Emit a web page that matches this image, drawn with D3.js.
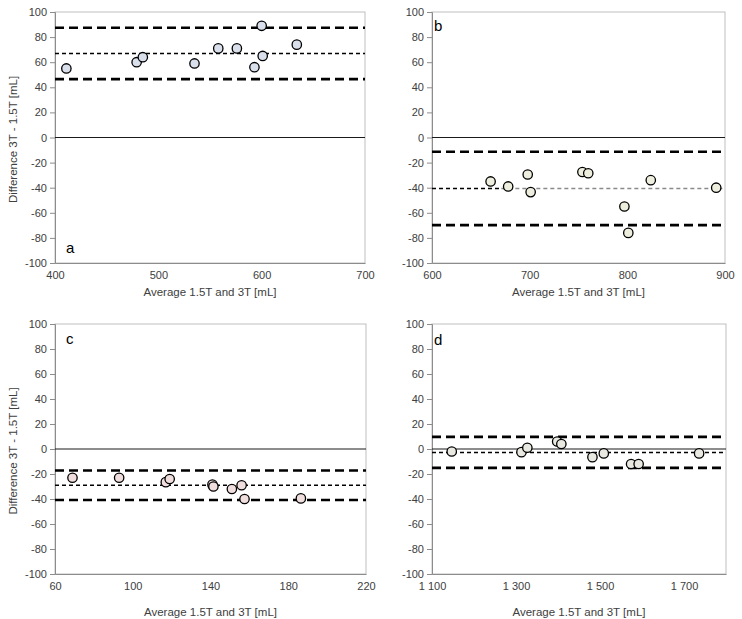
<!DOCTYPE html>
<html>
<head>
<meta charset="utf-8">
<script src="https://cdn.jsdelivr.net/npm/d3@7"></script>
<style>
  html, body { margin: 0; padding: 0; background: #fff; }
  svg { display: block; font-family: "Liberation Sans", Arial, sans-serif; }
</style>
</head>
<body>
<svg id="chart" width="742" height="619"></svg>
<script>
// ---- data ----
const panelLabels = ["a", "b", "c", "d"];
const aX = [411, 479, 485, 535, 558, 576, 600, 601, 593, 634];
const aY = [55, 60, 64, 59, 71, 71, 89, 65, 56, 74];
const bX = [660, 678, 698, 701, 754, 760, 797, 801, 824, 891];
const bY = [-35, -39, -29.5, -43.5, -27.5, -28.5, -55, -76, -34, -40];
const cX = [69, 93, 117, 119, 141, 141.5, 151, 156, 157.5, 186.5];
const cY = [-23, -23, -26.5, -24, -28.5, -30, -32, -29, -40, -39.5];
const dX = [1147, 1313, 1327, 1398, 1408, 1482, 1509, 1574, 1592, 1736];
const dY = [-2, -2.5, 1, 6, 4, -6.5, -3.5, -12, -12, -3.5];
// mean, upper limit, lower limit
const aLines = [67, 87.5, 46.5];
const bLines = [-40.6, -11.4, -69.8];
const cLines = [-29, -17.2, -40.8];
const dLines = [-2.7, 9.7, -15.1];
const aDomain = [400, 700], aTicks = [400, 500, 600, 700];
const bDomain = [600, 900], bTicks = [600, 700, 800, 900];
const cDomain = [60, 220], cTicks = [60, 100, 140, 180, 220];
const dDomain = [1100, 1800], dTicks = [1100, 1300, 1500, 1700];
const dTickLabels = ["1 100", "1 300", "1 500", "1 700"];
const yTicks = [-100, -80, -60, -40, -20, 0, 20, 40, 60, 80, 100];
const yTitle = "Difference 3T - 1.5T [mL]";
const xTitle = "Average 1.5T and 3T [mL]";
const bMeanSplit = 671; // mean line in panel b changes from black to grey here

// ---- layout ----
const svg = d3.select("#chart");
const panels = [
  { id: "a", xs: aX, ys: aY, lines: aLines, dom: aDomain, ticks: aTicks, labels: null,
    box: [55, 365, 12, 263], fill: "#d9e0ec", letterPos: [66, 253], yTitle: true, titleOff: 33 },
  { id: "b", xs: bX, ys: bY, lines: bLines, dom: bDomain, ticks: bTicks, labels: null,
    box: [432, 725, 12, 263], fill: "#eeeede", letterPos: [434, 31], yTitle: false, split: bMeanSplit, titleOff: 33 },
  { id: "c", xs: cX, ys: cY, lines: cLines, dom: cDomain, ticks: cTicks, labels: null,
    box: [55, 366, 324, 574], fill: "#f0dddd", letterPos: [66, 344], yTitle: true, titleOff: 42 },
  { id: "d", xs: dX, ys: dY, lines: dLines, dom: dDomain, ticks: dTicks, labels: dTickLabels,
    box: [432, 726, 324, 574], fill: "#e9e9e1", letterPos: [434, 345], yTitle: false, titleOff: 42 }
];

panels.forEach((p, pi) => {
  const [x0, x1, y0, y1] = p.box;
  const x = d3.scaleLinear().domain(p.dom).range([x0, x1]);
  const y = d3.scaleLinear().domain([-100, 100]).range([y1, y0]);
  const g = svg.append("g");

  // plot border (top/right)
  g.append("rect").attr("x", x0).attr("y", y0).attr("width", x1 - x0).attr("height", y1 - y0)
    .attr("fill", "none").attr("stroke", "#bfbfbf").attr("stroke-width", 1);

  // y axis
  const yAxis = d3.axisLeft(y).tickValues(yTicks).tickSize(5).tickPadding(3)
    .tickFormat(d => String(d));
  const ya = g.append("g").attr("transform", `translate(${x0},0)`).call(yAxis);
  ya.select(".domain").attr("stroke", "#8c8c8c");
  ya.selectAll(".tick line").attr("stroke", "#8c8c8c");
  ya.selectAll("text").attr("font-size", 11).attr("fill", "#404040")
    .attr("font-family", "'Liberation Sans', Arial, sans-serif");

  // x axis
  const xAxis = d3.axisBottom(x).tickValues(p.ticks).tickSize(0).tickPadding(8)
    .tickFormat((d, i) => p.labels ? p.labels[i] : String(d));
  const xa = g.append("g").attr("transform", `translate(0,${y1})`).call(xAxis);
  xa.select(".domain").attr("stroke", "#8c8c8c");
  xa.selectAll("text").attr("font-size", 11).attr("fill", "#404040")
    .attr("font-family", "'Liberation Sans', Arial, sans-serif");

  // zero line
  g.append("line").attr("x1", x0).attr("x2", x1).attr("y1", y(0)).attr("y2", y(0))
    .attr("stroke", "#1a1a1a").attr("stroke-width", 1);

  // limits of agreement
  [p.lines[1], p.lines[2]].forEach(v => {
    g.append("line").attr("x1", x0).attr("x2", x1).attr("y1", y(v)).attr("y2", y(v))
      .attr("stroke", "#000").attr("stroke-width", 2.6).attr("stroke-dasharray", "9,5");
  });
  // mean line
  if (p.split !== undefined) {
    g.append("line").attr("x1", x0).attr("x2", x(p.split)).attr("y1", y(p.lines[0])).attr("y2", y(p.lines[0]))
      .attr("stroke", "#000").attr("stroke-width", 1.5).attr("stroke-dasharray", "4,3");
    g.append("line").attr("x1", x(p.split)).attr("x2", x1).attr("y1", y(p.lines[0])).attr("y2", y(p.lines[0]))
      .attr("stroke", "#8a8a8a").attr("stroke-width", 1.5).attr("stroke-dasharray", "4,3");
  } else {
    g.append("line").attr("x1", x0).attr("x2", x1).attr("y1", y(p.lines[0])).attr("y2", y(p.lines[0]))
      .attr("stroke", "#000").attr("stroke-width", 1.5).attr("stroke-dasharray", "4,3");
  }

  // points
  const pts = p.xs.map((v, i) => ({ x: v, y: p.ys[i] }));
  g.selectAll("circle.pt").data(pts).enter().append("circle").attr("class", "pt")
    .attr("cx", d => x(d.x)).attr("cy", d => y(d.y)).attr("r", 4.7)
    .attr("fill", p.fill).attr("stroke", "#000").attr("stroke-width", 1.3);

  // panel letter
  g.append("text").attr("x", p.letterPos[0]).attr("y", p.letterPos[1])
    .attr("font-size", 15).attr("fill", "#000").text(panelLabels[pi]);

  // x title
  g.append("text").attr("x", (x0 + x1) / 2).attr("y", y1 + p.titleOff).attr("text-anchor", "middle")
    .attr("font-size", 11.5).attr("fill", "#404040").text(xTitle);

  // y title
  if (p.yTitle) {
    g.append("text").attr("transform", `translate(17,${(y0 + y1) / 2 + 2}) rotate(-90)`)
      .attr("text-anchor", "middle").attr("font-size", 11.5).attr("fill", "#404040").text(yTitle);
  }
});
</script>
</body>
</html>
